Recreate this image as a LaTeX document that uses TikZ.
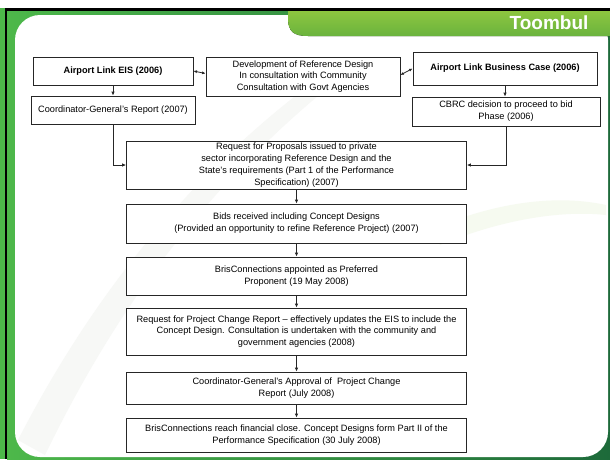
\documentclass[tikz,border=0pt]{standalone}
\usepackage{fontspec}
\setmainfont{Liberation Sans}
\usetikzlibrary{arrows.meta,calc}
\definecolor{tabtop}{HTML}{8DC63F}
\definecolor{tabbot}{HTML}{6AB33E}
\definecolor{frameL}{HTML}{4DB84A}
\definecolor{frameR}{HTML}{1D6A3A}
\definecolor{swoosh}{HTML}{F7F8F6}
\definecolor{swooshg}{HTML}{F6FAF0}
\begin{document}
\begin{tikzpicture}[x=1pt,y=-1pt,
  box/.style={draw=black!85, line width=0.8pt, fill=white, align=center,
    font=\fontsize{9.2}{11.8}\selectfont, inner sep=0pt},
  boldbox/.style={box, font=\fontsize{9.2}{11.8}\selectfont\bfseries},
  conn/.style={line width=0.8pt, black!85, -{Latex[length=4pt,width=3.5pt]}},
  biconn/.style={line width=0.8pt, black!85, {Latex[length=3.5pt,width=3pt]}-{Latex[length=3.5pt,width=3pt]}}]
\useasboundingbox (0,0) rectangle (610,459);
% frame
\fill[white] (0,0) rectangle (610,459);
\fill[frameL] (0,8) rectangle (7,459);
\fill[left color=frameL, right color=frameR] (7,11) rectangle (610,459);
\fill[black] (5,8) rectangle (610,11);
\fill[black] (5,8) rectangle (7,459);
\fill[white, rounded corners=25pt] (15,15) rectangle (608,457);
% faint background swooshes
\fill[swoosh] (18,440) .. controls (90,300) and (190,170) .. (330,70)
  -- (350,70) .. controls (215,175) and (120,300) .. (45,455) -- cycle;
\fill[swooshg] (430,230) .. controls (500,200) and (560,195) .. (606,205)
  -- (606,215) .. controls (560,210) and (500,220) .. (440,245) -- cycle;
% tab
\fill[top color=tabtop, bottom color=tabbot] (288,11) -- (288,18)
  .. controls (288,32) and (294,36) .. (308,36) -- (610,36) -- (610,11) -- cycle;
\node[font=\fontsize{19}{19}\selectfont\bfseries, text=white, anchor=east] (title) at (592,23) {Toombul};
% boxes
\node[boldbox, minimum width=160pt, minimum height=28pt] (eis) at (113,71) {Airport Link EIS (2006)};
\node[box, minimum width=194pt, minimum height=39pt] (dev) at (303,76.5) {Development of Reference Design\\In consultation with Community\\Consultation with Govt Agencies};
\node[boldbox, minimum width=184pt, minimum height=33pt] (bc) at (505,68.5) {Airport Link Business Case (2006)};
\node[box, minimum width=164pt, minimum height=28pt] (cg) at (113,110) {Coordinator-General’s Report (2007)};
\node[box, minimum width=188pt, minimum height=29pt] (cbrc) at (506,111.5) {CBRC decision to proceed to bid\\Phase (2006)};
\node[box, minimum width=340pt, minimum height=48pt] (rfp) at (296.5,165) {Request for Proposals issued to private\\sector incorporating Reference Design and the\\State’s requirements (Part 1 of the Performance\\Specification) (2007)};
\node[box, minimum width=340pt, minimum height=39pt] (bids) at (296.5,223.5) {Bids received including Concept Designs\\(Provided an opportunity to refine Reference Project) (2007)};
\node[box, minimum width=340pt, minimum height=38pt] (pref) at (296.5,276) {BrisConnections appointed as Preferred\\Proponent (19 May 2008)};
\node[box, minimum width=340pt, minimum height=47pt] (pcr) at (296.5,331.5) {Request for Project Change Report – effectively updates the EIS to include the\\Concept Design. Consultation is undertaken with the community and\\government agencies (2008)};
\node[box, minimum width=340pt, minimum height=32pt] (cga) at (296.5,388) {Coordinator-General’s Approval of\ \ Project Change\\Report (July 2008)};
\node[box, minimum width=340pt, minimum height=34pt] (fin) at (296.5,435) {BrisConnections reach financial close. Concept Designs form Part II of the\\Performance Specification (30 July 2008)};
% connectors
\draw[biconn] (eis.east) -- ([yshift=3pt]dev.west);
\draw[biconn] ([yshift=1.5pt]dev.east) -- (bc.west);
\draw[conn] (eis.south) -- (cg.north);
\draw[conn] (bc.south) -- (bc.south |- cbrc.north);
\draw[conn] (cg.south) |- (rfp.west);
\draw[conn] (cbrc.south) |- (rfp.east);
\draw[conn] (rfp) -- (bids);
\draw[conn] (bids) -- (pref);
\draw[conn] (pref) -- (pcr);
\draw[conn] (pcr) -- (cga);
\draw[conn] (cga) -- (fin);
\end{tikzpicture}
\end{document}
